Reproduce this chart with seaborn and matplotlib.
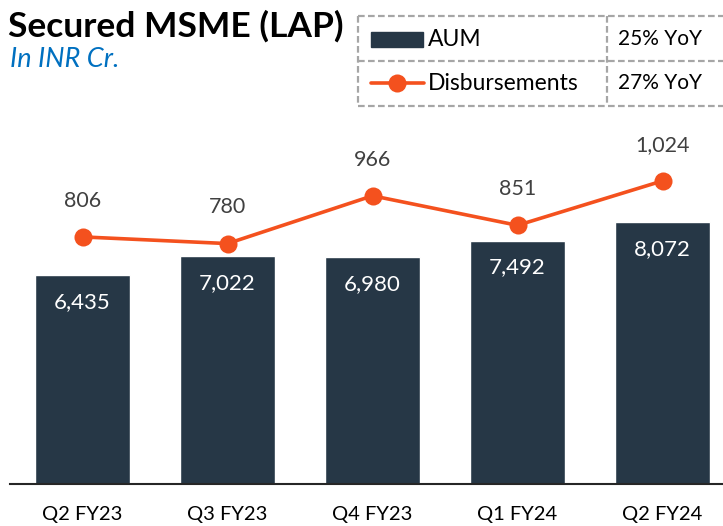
import matplotlib.pyplot as plt
import matplotlib.patches as mpatches
from matplotlib.lines import Line2D
import numpy as np
import pandas as pd
import seaborn as sns

quarters = ["Q2 FY23", "Q3 FY23", "Q4 FY23", "Q1 FY24", "Q2 FY24"]
aum = [6435, 7022, 6980, 7492, 8072]
disbursements = [806, 780, 966, 851, 1024]
yoy_labels = ["25% YoY", "27% YoY"]

BAR = "#263746"
LINE = "#F4511E"
W, H = 723, 526

sns.set_theme(style="white")
plt.rcParams["font.family"] = ["Lato", "DejaVu Sans"]

df = pd.DataFrame({"quarter": quarters, "aum": aum, "disb": disbursements})
df["pos"] = np.arange(len(df))

fig = plt.figure(figsize=(W / 100, H / 100), dpi=100)
ax = fig.add_axes([10 / W, 42 / H, 713 / W, 354 / H])

sns.barplot(data=df, x="quarter", y="aum", color=BAR, width=0.66,
            saturation=1, ax=ax)
ax.set_xlim(-0.5, 4.417)
ax.set_ylim(0, 10892)
for i, v in enumerate(aum):
    ax.annotate(f"{v:,}", (i, v), xytext=(0, -19.5), textcoords="offset points",
                ha="center", va="center", color="white", fontsize=16)

ax2 = ax.twinx()
sns.lineplot(data=df, x="pos", y="disb", color=LINE, lw=2.6, marker="o",
             markersize=13, markeredgewidth=0, ax=ax2)
ax2.set_ylim(-155.6, 1222)
for i, v in enumerate(disbursements):
    ax2.annotate(f"{v:,}", (i, v), xytext=(0, 26), textcoords="offset points",
                 ha="center", va="center", color="#404040", fontsize=15.5)

for a in (ax, ax2):
    a.set_xlabel("")
    a.set_ylabel("")
    a.set_yticks([])
    for s in ("top", "right", "left", "bottom"):
        a.spines[s].set_visible(False)
ax.spines["bottom"].set_visible(True)
ax.spines["bottom"].set_color("#262626")
ax.spines["bottom"].set_linewidth(1.5)
ax.tick_params(axis="x", length=0, pad=16, labelsize=14.5, labelcolor="black")

# title
fig.text(8 / W, 1 - 37 / H, "Secured MSME (LAP)", fontsize=25.5, fontweight="bold",
         color="black", va="baseline", ha="left")
fig.text(10 / W, 1 - 67 / H, "In INR Cr.", fontsize=19.5, fontstyle="italic",
         color="#0070C0", va="baseline", ha="left")

# legend table
dash = dict(color="#A6A6A6", lw=1.6, ls=(0, (3, 1.5)), transform=fig.transFigure)
def fx(px):
    return px / W
def fy(py):
    return 1 - py / H
for yy in (16, 61, 106):
    fig.add_artist(Line2D([fx(358), fx(730)], [fy(yy), fy(yy)], **dash))
for xx in (358, 607):
    fig.add_artist(Line2D([fx(xx), fx(xx)], [fy(16), fy(106)], **dash))

fig.add_artist(mpatches.Rectangle((fx(371), fy(47)), fx(52), 15 / H, color=BAR,
                                  transform=fig.transFigure))
fig.add_artist(Line2D([fx(371), fx(424)], [fy(83), fy(83)], color=LINE, lw=2.6,
                      transform=fig.transFigure))
fig.add_artist(Line2D([fx(397)], [fy(83)], color=LINE, marker="o", markersize=13,
                      markeredgewidth=0, transform=fig.transFigure))
fig.text(fx(428), fy(39), "AUM", fontsize=16.5, va="center", ha="left", color="black")
fig.text(fx(428), fy(83), "Disbursements", fontsize=16.5, va="center", ha="left",
         color="black")
fig.text(fx(618), fy(39), yoy_labels[0], fontsize=15, va="center", ha="left",
         color="black")
fig.text(fx(618), fy(83), yoy_labels[1], fontsize=15, va="center", ha="left",
         color="black")

fig.savefig("out.png", dpi=100)
